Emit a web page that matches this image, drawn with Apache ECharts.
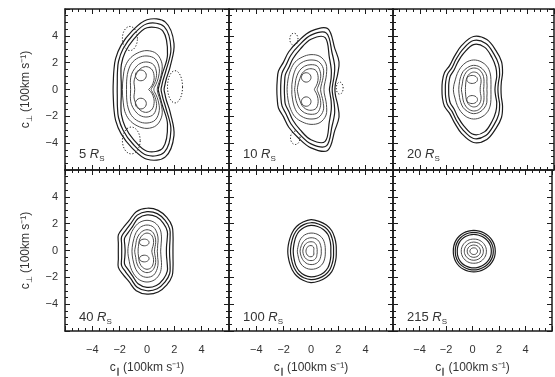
<!DOCTYPE html>
<html>
<head>
<meta charset="utf-8">
<script src="https://cdn.jsdelivr.net/npm/echarts@6/dist/echarts.min.js"></script>
<style>
  html, body { margin: 0; background: #fff; }
  #chart { width: 555px; height: 377px; }
</style>
</head>
<body>
<div id="chart"></div>
<script>
// heliocentric distance of each panel (in solar radii)
const distances = ['5', '10', '20', '40', '100', '215'];
const tickValues = [-4, -2, 0, 2, 4];

// contour radii at 0,15,...,180 degrees round each panel centre;
// the lower half of every contour mirrors the upper half
const halfAngles = [0, 15, 30, 45, 60, 75, 90, 105, 120, 135, 150, 165, 180];
const centres = [[0, 0], [0, 0], [0, 0], [0, -0.05], [0, -0.05], [0.1, -0.05]];

const contours5 = [
  [1.25, 1.36, 1.64, 2.4, 3.95, 5.2, 5.2, 4.45, 3.8, 3.25, 2.8, 2.55, 2.48],
  [1.03, 1.12, 1.35, 1.95, 3.5, 4.85, 4.9, 4.15, 3.5, 2.95, 2.5, 2.25, 2.18],
  [0.82, 0.9, 1.1, 1.55, 3.0, 4.5, 4.6, 3.85, 3.2, 2.65, 2.2, 1.95, 1.88],
  [0.75, 0.8, 1.0, 1.45, 2.2, 2.75, 2.9, 2.8, 2.6, 2.3, 2.0, 1.85, 1.8],
  [0.5, 0.55, 0.75, 1.15, 1.8, 2.35, 2.5, 2.45, 2.25, 1.95, 1.7, 1.55, 1.5],
  [0.3, 0.35, 0.5, 0.85, 1.4, 1.9, 2.05, 2.0, 1.8, 1.6, 1.4, 1.25, 1.2],
  [0.12, 0.16, 0.3, 0.6, 1.05, 1.5, 1.7, 1.65, 1.45, 1.25, 1.1, 0.95, 0.9]
];
const contours10 = [
  [1.75, 1.86, 2.25, 2.9, 3.5, 4.7, 4.35, 3.7, 3.25, 2.86, 2.75, 2.56, 2.5],
  [1.55, 1.65, 1.95, 2.45, 3.1, 4.35, 4.05, 3.4, 2.95, 2.58, 2.45, 2.28, 2.22],
  [1.35, 1.45, 1.7, 2.1, 2.7, 4.0, 3.75, 3.1, 2.65, 2.3, 2.17, 2.0, 1.95],
  [0.95, 1.0, 1.2, 1.6, 2.2, 2.55, 2.6, 2.5, 2.35, 2.1, 1.9, 1.78, 1.75],
  [0.7, 0.75, 0.9, 1.25, 1.8, 2.15, 2.2, 2.15, 2.0, 1.75, 1.55, 1.45, 1.4],
  [0.45, 0.5, 0.65, 0.95, 1.4, 1.8, 1.85, 1.8, 1.65, 1.45, 1.3, 1.2, 1.2],
  [0.25, 0.28, 0.4, 0.65, 1.05, 1.45, 1.55, 1.5, 1.35, 1.15, 1.05, 1.0, 1.0]
];
const contours20 = [
  [2.05, 2.15, 2.5, 2.95, 3.35, 3.85, 3.95, 3.4, 2.85, 2.52, 2.5, 2.4, 2.35],
  [1.82, 1.92, 2.25, 2.65, 3.05, 3.55, 3.65, 3.1, 2.6, 2.28, 2.25, 2.15, 2.1],
  [1.6, 1.7, 2.0, 2.35, 2.75, 3.25, 3.35, 2.8, 2.35, 2.05, 2.0, 1.9, 1.85],
  [1.3, 1.35, 1.5, 1.75, 2.0, 2.15, 2.2, 2.1, 1.9, 1.7, 1.55, 1.5, 1.5],
  [1.0, 1.05, 1.15, 1.4, 1.6, 1.75, 1.8, 1.7, 1.55, 1.35, 1.2, 1.12, 1.1],
  [0.75, 0.8, 0.9, 1.1, 1.35, 1.55, 1.6, 1.5, 1.3, 1.1, 0.95, 0.9, 0.9],
  [0.5, 0.52, 0.6, 0.8, 1.05, 1.25, 1.3, 1.2, 1.0, 0.8, 0.68, 0.62, 0.6]
];
const contours40 = [
  [1.9, 1.97, 2.2, 2.6, 2.9, 3.15, 3.2, 3.05, 2.63, 2.47, 2.42, 2.17, 2.1],
  [1.65, 1.72, 1.95, 2.35, 2.65, 2.9, 2.95, 2.78, 2.37, 2.2, 2.15, 1.92, 1.85],
  [1.42, 1.48, 1.7, 2.1, 2.4, 2.65, 2.7, 2.52, 2.12, 1.95, 1.9, 1.68, 1.6],
  [1.0, 1.05, 1.2, 1.5, 1.9, 2.2, 2.3, 2.2, 1.95, 1.7, 1.5, 1.42, 1.4],
  [0.75, 0.8, 0.9, 1.15, 1.5, 1.85, 1.95, 1.85, 1.6, 1.35, 1.2, 1.12, 1.1],
  [0.55, 0.58, 0.68, 0.9, 1.2, 1.5, 1.6, 1.5, 1.3, 1.1, 0.95, 0.9, 0.9],
  [0.35, 0.38, 0.45, 0.65, 0.95, 1.25, 1.35, 1.25, 1.05, 0.85, 0.72, 0.67, 0.65]
];
const contours100 = [
  [1.85, 1.9, 2.0, 2.15, 2.25, 2.3, 2.35, 2.25, 2.12, 1.95, 1.8, 1.72, 1.7],
  [1.65, 1.7, 1.8, 1.95, 2.05, 2.1, 2.12, 2.05, 1.92, 1.75, 1.6, 1.52, 1.5],
  [1.45, 1.5, 1.6, 1.75, 1.85, 1.9, 1.92, 1.85, 1.72, 1.55, 1.4, 1.32, 1.3],
  [1.05, 1.08, 1.15, 1.25, 1.32, 1.35, 1.35, 1.32, 1.25, 1.15, 1.05, 1.0, 1.0],
  [0.75, 0.78, 0.82, 0.9, 0.97, 1.0, 1.0, 0.98, 0.93, 0.87, 0.82, 0.8, 0.8],
  [0.45, 0.47, 0.5, 0.58, 0.65, 0.7, 0.7, 0.7, 0.68, 0.65, 0.62, 0.6, 0.6],
  [0.2, 0.21, 0.24, 0.3, 0.36, 0.4, 0.42, 0.42, 0.41, 0.4, 0.38, 0.37, 0.37]
];
const contours215 = [
  [1.62, 1.62, 1.6, 1.58, 1.56, 1.55, 1.55, 1.55, 1.56, 1.57, 1.57, 1.56, 1.55],
  [1.47, 1.47, 1.45, 1.43, 1.41, 1.4, 1.4, 1.4, 1.41, 1.42, 1.42, 1.41, 1.4],
  [1.32, 1.32, 1.3, 1.28, 1.26, 1.25, 1.25, 1.25, 1.26, 1.27, 1.27, 1.26, 1.25],
  [0.95, 0.95, 0.94, 0.93, 0.92, 0.91, 0.9, 0.91, 0.92, 0.93, 0.94, 0.95, 0.95],
  [0.72, 0.72, 0.71, 0.7, 0.69, 0.68, 0.68, 0.68, 0.69, 0.7, 0.71, 0.72, 0.72],
  [0.5, 0.5, 0.49, 0.48, 0.47, 0.46, 0.46, 0.46, 0.47, 0.48, 0.49, 0.5, 0.5],
  [0.28, 0.28, 0.27, 0.26, 0.26, 0.25, 0.25, 0.25, 0.26, 0.27, 0.28, 0.29, 0.3]
];
const contours = [contours5, contours10, contours20, contours40, contours100, contours215];

// innermost closed lobes, [x centre, y centre, x radius, y radius]
const lobes = [
  [[-0.45, 1.05, 0.4, 0.4], [-0.45, -1.05, 0.4, 0.4]],
  [[-0.35, 0.9, 0.35, 0.35], [-0.35, -0.9, 0.35, 0.35]],
  [[-0.1, 0.75, 0.4, 0.3], [-0.1, -0.75, 0.4, 0.3]],
  [[-0.2, 0.6, 0.35, 0.25], [-0.2, -0.6, 0.35, 0.25]],
  [],
  []
];
// dotted (lower level) contours, same layout
const dotted = [
  [[-1.25, 3.8, 0.55, 0.9], [2.05, 0.2, 0.55, 1.2], [-1.15, -3.8, 0.65, 1.0]],
  [[-1.25, 3.75, 0.3, 0.45], [2.1, 0.1, 0.25, 0.45], [-1.15, -3.6, 0.35, 0.5]],
  [], [], [], []
];

const FONT = '"Liberation Sans", Arial, sans-serif';
const INK = '#1c1c1c';
const INNER = '#4a4a4a';
const colLeft = [65, 229, 393];
const colWidth = [164, 164, 161];
const rowTop = [9, 170];
const rowHeight = [161, 163];

const chart = echarts.init(document.getElementById('chart'));

const fmt = (v) => (tickValues.includes(v) ? String(v).replace('-', '\u2212') : '');

const axisBase = (i, position, labels) => ({
  type: 'value',
  gridIndex: i,
  position,
  min: -6,
  max: 6,
  interval: 2,
  axisLine: { show: true, onZero: false, lineStyle: { color: INK, width: 1.5 } },
  axisTick: { show: true, inside: true, length: 5, lineStyle: { color: INK } },
  minorTick: { show: true, splitNumber: 4, length: 3, lineStyle: { color: INK } },
  splitLine: { show: false },
  axisLabel: {
    show: labels,
    formatter: fmt,
    color: '#333',
    fontFamily: FONT,
    fontSize: 11
  }
});

const titleRich = {
  c: { fontFamily: FONT, fontSize: 12, color: '#333', lineHeight: 16 },
  s: { fontFamily: FONT, fontSize: 8, color: '#333', verticalAlign: 'bottom', lineHeight: 16 }
};

const grids = [];
const xAxes = [];
const yAxes = [];
const series = [];
const graphics = [];

// whole ring of [angle, radius]: upper half as read, lower half mirrored
function ring(half) {
  const out = half.map((r, k) => [halfAngles[k], r]);
  for (let k = half.length - 2; k >= 1; k--) out.push([-halfAngles[k], half[k]]);
  return out;
}

function ellipsePoints(api, e) {
  const pts = [];
  for (let k = 0; k < 24; k++) {
    const a = (k / 24) * Math.PI * 2;
    pts.push(api.coord([e[0] + e[2] * Math.cos(a), e[1] + e[3] * Math.sin(a)]));
  }
  return pts;
}

distances.forEach((d, i) => {
  const row = Math.floor(i / 3);
  const col = i % 3;
  grids.push({ left: colLeft[col], top: rowTop[row], width: colWidth[col], height: rowHeight[row] });

  const xb = axisBase(i, 'bottom', row === 1);
  xb.axisLabel.margin = 13;
  if (row === 1) {
    xb.name = '{c|c}{s|\u2225}{c| (100km s\u207B\u00B9)}';
    xb.nameLocation = 'middle';
    xb.nameGap = 29;
    xb.nameTextStyle = { rich: titleRich };
  }
  xAxes.push(xb, axisBase(i, 'top', false));

  const yl = axisBase(i, 'left', col === 0);
  yl.axisLabel.margin = 7;
  if (col === 0) {
    yl.name = '{c|c}{s|\u22A5}{c| (100km s\u207B\u00B9)}';
    yl.nameLocation = 'middle';
    yl.nameRotate = 90;
    yl.nameGap = 31;
    yl.nameTextStyle = { rich: titleRich };
  }
  yAxes.push(yl, axisBase(i, 'right', false));

  const shapes = [];
  contours[i].forEach((half, k) =>
    shapes.push({ kind: 'polar', ring: ring(half), dash: false, inner: k >= 3 })
  );
  lobes[i].forEach((e) => shapes.push({ kind: 'ellipse', e, dash: false, inner: true }));
  dotted[i].forEach((e) => shapes.push({ kind: 'ellipse', e, dash: true, inner: false }));

  series.push({
    type: 'custom',
    xAxisIndex: i * 2,
    yAxisIndex: i * 2,
    coordinateSystem: 'cartesian2d',
    silent: true,
    animation: false,
    data: shapes.map((s, k) => [centres[i][0], centres[i][1], k]),
    renderItem: (params, api) => {
      const s = shapes[params.dataIndex];
      let points;
      if (s.kind === 'polar') {
        const [cx, cy] = centres[i];
        points = s.ring.map(([deg, r]) => {
          const a = (deg * Math.PI) / 180;
          return api.coord([cx + r * Math.cos(a), cy + r * Math.sin(a)]);
        });
      } else {
        points = ellipsePoints(api, s.e);
      }
      return {
        type: 'polygon',
        shape: { points, smooth: 0.35 },
        style: {
          fill: null,
          stroke: s.inner ? INNER : INK,
          lineWidth: s.dash ? 1 : s.inner ? 1 : 1.2,
          lineDash: s.dash ? [1.2, 1.8] : null
        }
      };
    }
  });

  graphics.push({
    type: 'text',
    left: colLeft[col] + 14,
    top: rowTop[row] + rowHeight[row] - 25,
    style: {
      text: d + ' {r|R}{s|S}',
      fontFamily: FONT,
      fontSize: 13,
      fill: '#333',
      lineHeight: 18,
      rich: {
        r: { fontFamily: FONT, fontSize: 13, fontStyle: 'italic', fill: '#333', lineHeight: 18 },
        s: { fontFamily: FONT, fontSize: 8, fill: '#333', verticalAlign: 'bottom', lineHeight: 18 }
      }
    }
  });
});

chart.setOption({
  animation: false,
  backgroundColor: '#fff',
  grid: grids,
  xAxis: xAxes,
  yAxis: yAxes,
  series,
  graphic: graphics
});
</script>
</body>
</html>
